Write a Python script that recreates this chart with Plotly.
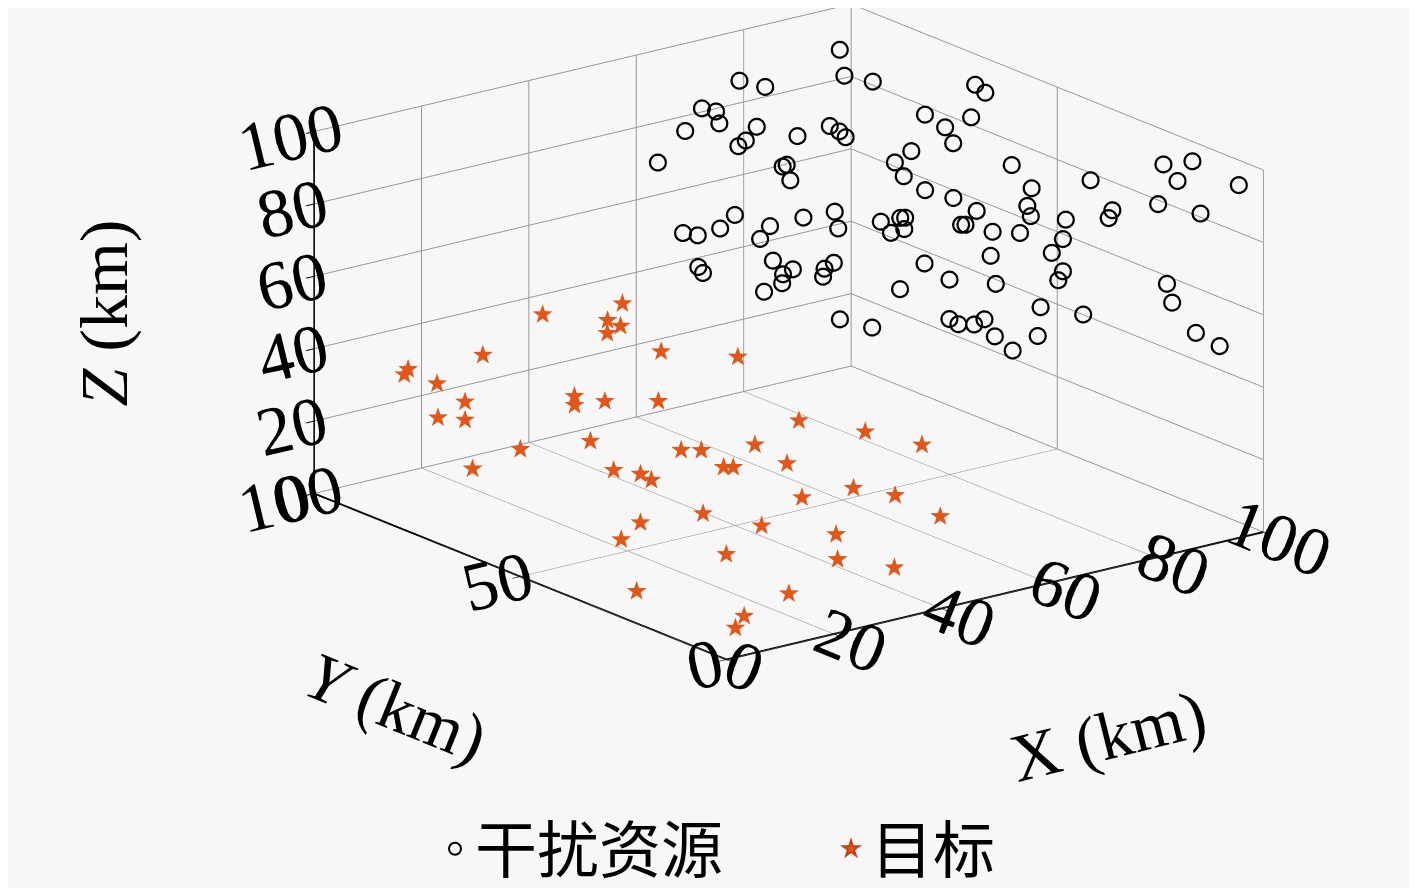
import plotly.graph_objects as go

# 干扰资源 (interference resources) - black open circles
res_x = [91.5, 88.6, 90.2, 95.6, 95.1, 71.9, 75.0, 62.3, 64.0, 62.7, 56.5, 67.9, 64.4, 62.4, 72.8,
         79.2, 79.9, 80.0, 47.8, 67.1, 66.2, 65.4, 88.4, 87.7, 90.7, 85.9, 82.4, 79.8, 78.3, 77.6,
         78.1, 77.6, 86.2, 84.0, 81.2, 80.0, 88.6, 95.1, 97.2, 93.5, 97.7, 90.2, 94.1, 85.9, 85.6,
         81.6, 81.3, 80.3, 81.3, 80.9, 91.0, 91.5, 83.0, 93.7, 95.9, 70.5, 69.4, 72.2, 72.5, 70.8,
         74.7, 74.9, 75.5, 77.3, 74.6, 66.2, 67.7, 74.1, 77.6, 58.8, 49.0, 62.0, 62.6, 65.0, 67.3,
         66.4, 73.0, 67.1, 52.0, 41.5, 43.4, 47.8, 55.7, 52.4, 62.0, 67.6, 64.8, 37.2, 36.0, 47.8,
         47.6, 45.0, 42.3, 37.7, 54.3, 51.5, 49.0, 45.3]
res_y = [91.8, 86.9, 82.1, 64.3, 61.2, 90.6, 88.4, 87.2, 86.0, 83.5, 83.7, 81.2, 79.3, 78.5, 77.7,
         78.2, 76.8, 75.4, 79.0, 72.9, 72.7, 69.8, 67.1, 61.3, 58.9, 57.0, 62.6, 63.2, 59.1, 53.0,
         46.8, 40.5, 43.2, 35.5, 32.9, 30.5, 27.2, 18.0, 13.7, 12.5, 3.1, 12.9, 7.7, 18.4, 18.9,
         24.1, 24.4, 25.8, 24.4, 25.0, 11.8, 11.2, 21.7, 8.3, 5.4, 54.5, 50.6, 52.0, 51.2, 49.2,
         40.5, 39.7, 33.9, 29.6, 33.2, 38.3, 34.2, 31.3, 25.0, 34.6, 28.6, 26.8, 25.4, 24.7, 25.2,
         21.5, 19.7, 18.1, 65.8, 64.7, 63.6, 63.9, 62.1, 60.2, 62.2, 61.9, 57.4, 55.4, 52.7, 51.1,
         46.0, 45.0, 41.7, 40.1, 44.8, 43.4, 40.5, 31.6]
res_z = [94.2, 90.3, 90.3, 95.7, 95.1, 93.1, 91.3, 90.4, 89.5, 87.8, 87.8, 86.1, 84.4, 83.9, 83.4,
         83.7, 82.6, 81.6, 84.3, 79.7, 79.6, 77.4, 88.7, 88.1, 90.9, 86.3, 82.8, 80.3, 78.9, 78.1,
         78.6, 78.1, 86.5, 84.4, 81.7, 80.4, 88.8, 95.1, 97.2, 93.6, 95.3, 88.2, 86.6, 85.5, 83.2,
         81.8, 76.4, 72.3, 67.5, 64.9, 66.4, 61.3, 56.2, 53.5, 50.4, 71.2, 70.3, 72.8, 73.1, 71.5,
         75.3, 75.6, 76.1, 77.1, 70.1, 68.6, 65.5, 63.4, 58.6, 65.8, 61.4, 60.0, 59.0, 58.4, 58.8,
         56.1, 54.7, 53.5, 74.4, 73.6, 72.8, 73.0, 71.7, 70.2, 71.8, 71.6, 70.0, 70.0, 70.0, 70.0,
         70.0, 70.0, 70.0, 70.0, 70.0, 70.0, 70.0, 63.6]

# 目标 (targets) - orange stars
tgt_x = [34.6, 19.7, 8.7, 8.3, 11.4, 14.0, 11.5, 14.0, 18.4, 12.8, 27.7, 26.5, 31.6, 23.6, 48.3,
         43.7, 44.8, 41.8, 47.3, 58.2, 39.8, 29.6, 31.9, 39.8, 29.6, 30.7, 20.8, 21.8, 21.6, 52.0,
         56.5, 60.7, 38.1, 44.1, 49.4, 34.9, 53.2, 19.7, 24.7, 14.8, 11.3, 34.8, 31.4, 38.9, 15.2,
         4.8, 19.1, 9.0, 6.0]
tgt_y = [89.7, 84.8, 88.6, 89.0, 85.1, 81.7, 85.0, 81.7, 74.0, 78.3, 73.0, 71.4, 70.7, 63.8, 88.2,
         85.8, 84.1, 83.4, 77.5, 73.1, 68.4, 49.6, 47.7, 45.0, 39.3, 38.4, 54.5, 49.3, 46.4, 50.2,
         40.0, 31.7, 35.0, 26.7, 23.5, 27.2, 17.5, 31.4, 23.7, 40.2, 40.3, 18.8, 14.0, 10.0, 19.9,
         28.1, 9.8, 7.5, 5.7]
tgt_z = [42.3, 38.6, 36.8, 35.3, 33.5, 29.1, 24.1, 24.1, 18.0, 12.6, 29.8, 28.5, 28.1, 23.1, 41.2,
         39.3, 38.1, 37.5, 33.2, 29.9, 26.3, 25.0, 25.0, 25.0, 25.0, 25.0, 20.3, 21.3, 21.0, 25.0,
         25.0, 23.7, 25.0, 19.9, 17.5, 20.3, 13.1, 19.3, 17.7, 14.5, 11.0, 14.0, 10.5, 7.4, 14.9,
         4.6, 7.3, 5.7, 4.3]

x_ticks = [0, 20, 40, 60, 80, 100]
y_ticks = [0, 50, 100]
z_ticks = [0, 20, 40, 60, 80, 100]

BG = "#f7f7f7"
STAR = "#e0561b"
TICKFONT = dict(family="Liberation Serif", size=29, color="black")
TITLEFONT = dict(family="Liberation Serif", size=68, color="black")

fig = go.Figure()

fig.add_trace(go.Scatter3d(
    x=res_x, y=res_y, z=res_z, mode="markers", name="干扰资源",
    marker=dict(symbol="circle-open", size=10, color="black",
                line=dict(color="black", width=3)),
    hoverinfo="skip",
))

fig.add_trace(go.Scatter3d(
    x=tgt_x, y=tgt_y, z=tgt_z, mode="text", text=["★"] * len(tgt_x),
    textposition="middle center",
    textfont=dict(family="DejaVu Sans", size=26, color=STAR),
    showlegend=False, hoverinfo="skip",
))

# legend-only entry for the star marker
fig.add_trace(go.Scatter(
    x=[None], y=[None], mode="markers", name="目标",
    marker=dict(symbol="star", size=16, color=STAR, line=dict(color="#c8401a", width=1)),
))

axis_common = dict(
    showbackground=False, gridcolor="#979797", gridwidth=2,
    showline=True, linecolor="black", linewidth=4,
    ticks="inside", ticklen=10, tickwidth=2, tickcolor="black",
    tickfont=TICKFONT, zeroline=False, showspikes=False,
    title=dict(text=""), autorange=False,
)

fig.update_layout(
    width=1417, height=888,
    margin=dict(l=0, r=0, t=0, b=0),
    paper_bgcolor=BG, plot_bgcolor="rgba(0,0,0,0)",
    xaxis=dict(visible=False), yaxis=dict(visible=False),
    scene=dict(
        domain=dict(x=[0.0, 1.0], y=[0.0, 1.0]),
        bgcolor=BG,
        xaxis=dict(axis_common, range=[0, 100], tickvals=x_ticks),
        yaxis=dict(axis_common, range=[0, 100], tickvals=y_ticks),
        zaxis=dict(axis_common, range=[0, 100], tickvals=z_ticks),
        aspectmode="manual", aspectratio=dict(x=1.537, y=1.537, z=0.864),
        camera=dict(
            projection=dict(type="orthographic"),
            eye=dict(x=-1.338, y=-1.473, z=0.366),
            up=dict(x=0, y=0, z=1),
            center=dict(x=-0.180, y=0.035, z=-0.252),
        ),
    ),
    legend=dict(
        orientation="h", x=427 / 1417, xanchor="left", y=0.045, yanchor="middle",
        font=dict(family="Noto Sans CJK SC", size=62, color="black"),
        bgcolor="rgba(0,0,0,0)", itemsizing="constant", entrywidth=351,
    ),
    annotations=[
        dict(text="<i>Z</i> (km)", xref="paper", yref="paper", x=96 / 1417, y=1 - 308 / 888,
             xanchor="center", yanchor="middle", showarrow=False, textangle=-90, font=TITLEFONT),
        dict(text="<i>Y</i> (km)", xref="paper", yref="paper", x=388 / 1417, y=1 - 705 / 888,
             xanchor="center", yanchor="middle", showarrow=False, textangle=22, font=TITLEFONT),
        dict(text="X (km)", xref="paper", yref="paper", x=1100 / 1417, y=1 - 734 / 888,
             xanchor="center", yanchor="middle", showarrow=False, textangle=-14, font=TITLEFONT),
    ],
)

fig.write_html("out.html")
